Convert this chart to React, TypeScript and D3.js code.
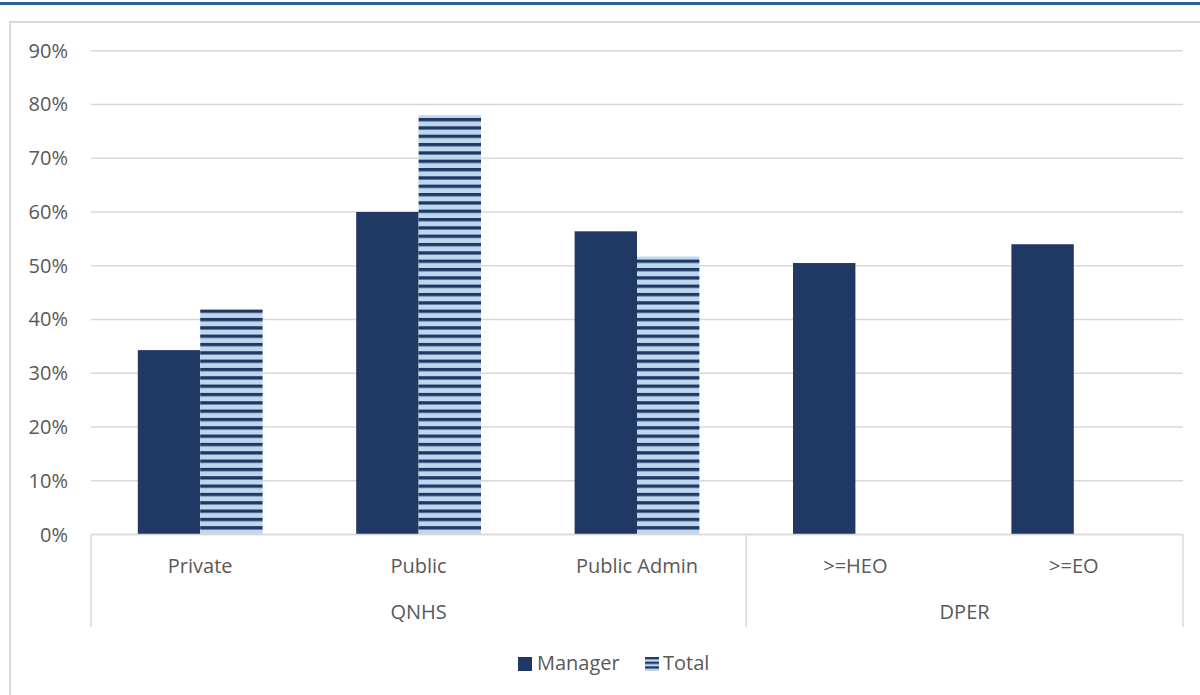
import React from "react";
import * as d3 from "d3";

const categories = ["Private", "Public", "Public Admin", ">=HEO", ">=EO"];
const groups = [
  { name: "QNHS", from: 0, to: 3 },
  { name: "DPER", from: 3, to: 5 },
];
const seriesNames = ["Manager", "Total"];
const managerValues = [34.3, 60.0, 56.4, 50.5, 54.0];
const totalValues: (number | null)[] = [41.9, 78.0, 51.7, null, null];
const yTicks = [0, 10, 20, 30, 40, 50, 60, 70, 80, 90];

const W = 1200;
const H = 695;
const left = 91;
const right = 1183;
const top = 50.7;
const bottom = 534.5;

const DARK = "#203864";
const LIGHT = "#bdd7ee";
const GRID = "#d9d9d9";
const TEXT = "#595959";
const FONT = "'Open Sans', 'Noto Sans', sans-serif";
const FS = 20;

export default function App() {
  const x0 = d3.scaleBand<string>().domain(categories).range([left, right]).padding(0);
  const bw = x0.bandwidth();
  const barW = bw / 3.5;
  const x1 = d3
    .scaleBand<string>()
    .domain(seriesNames)
    .range([(bw - 2 * barW) / 2, (bw + 2 * barW) / 2])
    .padding(0);
  const y = d3.scaleLinear().domain([0, 90]).range([bottom, top]);

  const seriesData = [
    { name: "Manager", values: managerValues as (number | null)[], fill: DARK },
    { name: "Total", values: totalValues, fill: "url(#stripes)" },
  ];

  const axisBottom = 627;
  const boundaries = [left, ...groups.map((g) => x0(categories[g.to - 1])! + bw)];

  return (
    <svg
      width={W}
      height={H}
      style={{ position: "absolute", left: 0, top: 0, background: "#fff" }}
    >
      <defs>
        <pattern id="stripes" patternUnits="userSpaceOnUse" width={10} height={8.33} y={bottom}>
          <rect x={0} y={0} width={10} height={8.33} fill={LIGHT} />
          <rect x={0} y={0} width={10} height={3.3} fill={DARK} />
        </pattern>
        <pattern id="legStripes" patternUnits="userSpaceOnUse" width={10} height={4.67} y={657}>
          <rect x={0} y={0} width={10} height={4.67} fill={LIGHT} />
          <rect x={0} y={0} width={10} height={2.3} fill={DARK} />
        </pattern>
      </defs>
      <rect x={0} y={0} width={W} height={H} fill="#fff" />
      <rect x={0} y={2} width={W} height={3} fill="#2f5f98" />
      <path d={`M10,${H + 5} V22 H${W + 5}`} fill="none" stroke={GRID} strokeWidth={2} />

      {yTicks.map((t) => (
        <g key={t}>
          <line x1={left} x2={right} y1={y(t)} y2={y(t)} stroke={GRID} strokeWidth={1.5} />
          <text x={68} y={y(t) + 7} textAnchor="end" fill={TEXT} fontFamily={FONT} fontSize={FS}>
            {t}%
          </text>
        </g>
      ))}

      {seriesData.map((s) =>
        categories.map((c, i) => {
          const v = s.values[i];
          if (v == null) return null;
          const bx = x0(c)! + x1(s.name)!;
          return (
            <rect
              key={s.name + c}
              x={bx}
              y={y(v)}
              width={x1.bandwidth()}
              height={y(0) - y(v)}
              fill={s.fill}
            />
          );
        })
      )}

      <line x1={left} x2={right} y1={bottom} y2={bottom} stroke={GRID} strokeWidth={1.5} />
      {boundaries.map((bx, i) => (
        <line key={i} x1={bx} x2={bx} y1={bottom} y2={axisBottom} stroke={GRID} strokeWidth={1.5} />
      ))}
      {categories.map((c) => (
        <text
          key={c}
          x={x0(c)! + bw / 2}
          y={573}
          textAnchor="middle"
          fill={TEXT}
          fontFamily={FONT}
          fontSize={FS}
        >
          {c}
        </text>
      ))}
      {groups.map((g) => {
        const gx0 = x0(categories[g.from])!;
        const gx1 = x0(categories[g.to - 1])! + bw;
        return (
          <text
            key={g.name}
            x={(gx0 + gx1) / 2}
            y={619}
            textAnchor="middle"
            fill={TEXT}
            fontFamily={FONT}
            fontSize={FS}
          >
            {g.name}
          </text>
        );
      })}

      <rect x={518} y={657} width={14} height={14} fill={DARK} />
      <text x={537} y={670} fill={TEXT} fontFamily={FONT} fontSize={FS}>
        {seriesNames[0]}
      </text>
      <rect x={645} y={657} width={14} height={14} fill="url(#legStripes)" />
      <text x={663} y={670} fill={TEXT} fontFamily={FONT} fontSize={FS}>
        {seriesNames[1]}
      </text>
    </svg>
  );
}
